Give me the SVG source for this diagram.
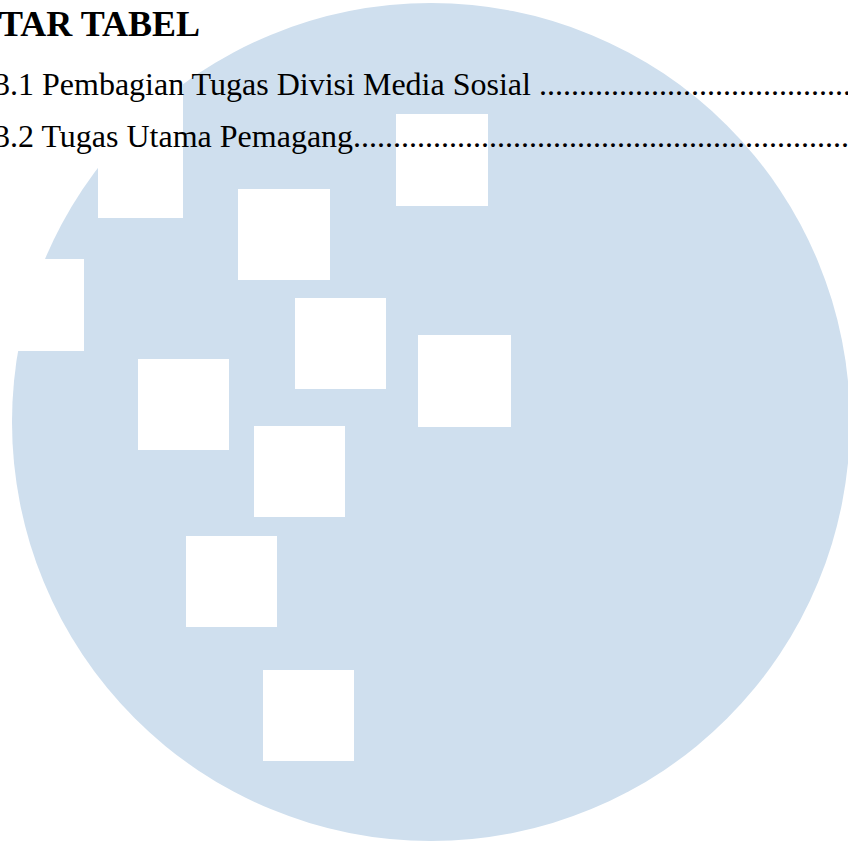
<svg xmlns="http://www.w3.org/2000/svg" width="848" height="846" viewBox="0 0 848 846">
<style>
.sq{fill:#ffffff}
.t{font-family:"Liberation Serif","Times New Roman",serif;font-size:32px;fill:#000}
.b{font-weight:bold;font-size:36px}
</style>
<rect width="848" height="846" fill="#ffffff"/>
<g id="logo">
<circle cx="431" cy="422" r="419" fill="#CFDFEE"/>
<rect class="sq" x="98" y="60" width="85" height="158"/>
<rect class="sq" x="238" y="189" width="92" height="91"/>
<rect class="sq" x="396" y="114" width="92" height="92"/>
<rect class="sq" x="0" y="259" width="84" height="92"/>
<rect class="sq" x="295" y="298" width="91" height="91"/>
<rect class="sq" x="418" y="335" width="93" height="92"/>
<rect class="sq" x="138" y="359" width="91" height="91"/>
<rect class="sq" x="254" y="426" width="91" height="91"/>
<rect class="sq" x="186" y="536" width="91" height="91"/>
<rect class="sq" x="263" y="670" width="91" height="91"/>
</g>
<g id="text">
<text class="t b" x="-1" y="36">TAR TABEL</text>
<text class="t" x="-6" y="95">3.1 Pembagian Tugas Divisi Media Sosial ................................................</text>
<text class="t" x="-6" y="147">3.2 Tugas Utama Pemagang..................................................................</text>
</g>
</svg>
